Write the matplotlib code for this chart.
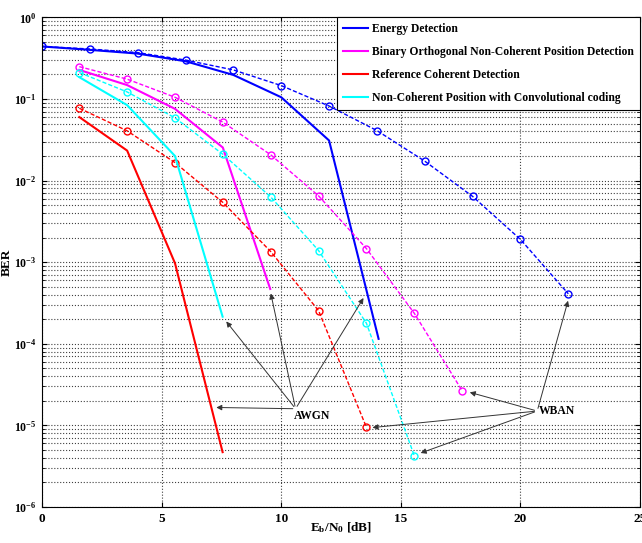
import matplotlib
matplotlib.use("Agg")
import matplotlib.pyplot as plt

plt.rcParams['font.family'] = ['Liberation Serif', 'DejaVu Serif']
plt.rcParams['font.weight'] = 'bold'
plt.rcParams['mathtext.fontset'] = 'custom'
plt.rcParams['mathtext.rm'] = 'Liberation Serif:bold'
plt.rcParams['mathtext.bf'] = 'Liberation Serif:bold'
plt.rcParams['mathtext.it'] = 'Liberation Serif:bold'

# Energy detection
ed_x_wban = [0, 2, 4, 6, 8, 10, 12, 14, 16, 18, 20, 22]
ed_wban = [0.44, 0.41, 0.37, 0.30, 0.227, 0.146, 0.082, 0.041, 0.0173, 0.0064, 0.0019, 4.1e-4]
ed_x_awgn = [0, 2, 4, 6, 8, 10, 12, 14.07]
ed_awgn = [0.44, 0.40, 0.36, 0.29, 0.197, 0.105, 0.031, 1.15e-4]

# Binary orthogonal non-coherent position detection
bo_x_wban = [1.56, 3.56, 5.56, 7.56, 9.56, 11.56, 13.56, 15.56, 17.56]
bo_wban = [0.249, 0.175, 0.105, 0.052, 0.0207, 0.0065, 0.00147, 2.37e-4, 2.67e-5]
bo_x_awgn = [1.56, 3.56, 5.56, 7.56, 9.54]
bo_awgn = [0.227, 0.148, 0.0757, 0.0254, 4.7e-4]

# Reference coherent detection
rc_x_wban = [1.56, 3.56, 5.56, 7.56, 9.56, 11.56, 13.56]
rc_wban = [0.077, 0.0407, 0.0166, 0.0054, 0.00135, 2.55e-4, 9.5e-6]
rc_x_awgn = [1.56, 3.56, 5.56, 7.55]
rc_awgn = [0.060, 0.0233, 9.7e-4, 4.7e-6]

# Non-coherent position with convolutional coding
cc_x_wban = [1.56, 3.56, 5.56, 7.56, 9.56, 11.56, 13.56, 15.56]
cc_wban = [0.211, 0.122, 0.0587, 0.021, 0.0063, 0.00139, 1.79e-4, 4.27e-6]
cc_x_awgn = [1.56, 3.56, 5.56, 7.55]
cc_awgn = [0.185, 0.084, 0.020, 2.15e-4]

labels = ['Energy Detection',
          'Binary Orthogonal Non-Coherent Position Detection',
          'Reference Coherent Detection',
          'Non-Coherent Position with Convolutional coding']
colors = ['#0000ff', '#ff00ff', '#ff0000', '#00ffff']

fig = plt.figure(figsize=(6.42, 5.43), dpi=100)
ax = fig.add_axes([0.0654, 0.0663, 0.9316, 0.9017])

series = [(ed_x_awgn, ed_awgn, ed_x_wban, ed_wban),
          (bo_x_awgn, bo_awgn, bo_x_wban, bo_wban),
          (rc_x_awgn, rc_awgn, rc_x_wban, rc_wban),
          (cc_x_awgn, cc_awgn, cc_x_wban, cc_wban)]

for (xa, ya, xw, yw), c, lab in zip(series, colors, labels):
    ax.semilogy(xa, ya, '-', color=c, lw=1.5, label=lab)
    ax.semilogy(xw, yw, '--', color=c, lw=1.0, marker='o', ms=5,
                mfc='none', mew=1.0, dashes=(3, 1.5))

ax.set_xlim(0, 25)
ax.set_ylim(1e-6, 1)
ax.set_xticks([0, 5, 10, 15, 20, 25])
ax.grid(True, which='major', ls=':', color='#404040', lw=0.8)
ax.grid(True, which='minor', axis='y', ls=':', color='#404040', lw=0.8)
ax.tick_params(which='both', direction='in', top=True, right=True)
ax.tick_params(axis='x', labelsize=9.5, pad=4)
ax.tick_params(axis='y', labelsize=8.5, pad=4)
for s in ax.spines.values():
    s.set_linewidth(0.8)

ax.set_xlabel(r'E$_\mathrm{b}$/N$_0$ [dB]', fontsize=9.5, fontweight='bold', labelpad=-3)
ax.set_ylabel('BER', fontsize=9.5, fontweight='bold', labelpad=1)

leg = ax.legend(loc='upper right', fontsize=8.4, borderaxespad=0, fancybox=False,
                edgecolor='black', framealpha=1, handlelength=2.2,
                handletextpad=0.35, labelspacing=0.95, borderpad=0.5)
leg.get_frame().set_linewidth(0.8)

arr = dict(arrowstyle='-|>', color='#333333', lw=0.7, mutation_scale=8)
awgn_src = (10.6, 1.6e-5)
for tgt in [(7.17, 10**-4.78), (7.63, 10**-3.70), (9.54, 10**-3.35), (13.5, 10**-3.41)]:
    ax.annotate('', xy=tgt, xytext=awgn_src, arrowprops=arr)
ax.text(10.55, 1.55e-5, 'AWGN', fontsize=8.4, fontweight='bold', ha='left', va='top')

wban_src = (20.7, 1.5e-5)
for tgt in [(22.02, 10**-3.44), (17.77, 10**-4.586), (13.7, 10**-5.03), (15.72, 10**-5.35)]:
    ax.annotate('', xy=tgt, xytext=wban_src, arrowprops=arr)
ax.text(20.75, 1.5e-5, 'WBAN', fontsize=8.4, fontweight='bold', ha='left', va='center')

fig.savefig('out.png', dpi=100)
